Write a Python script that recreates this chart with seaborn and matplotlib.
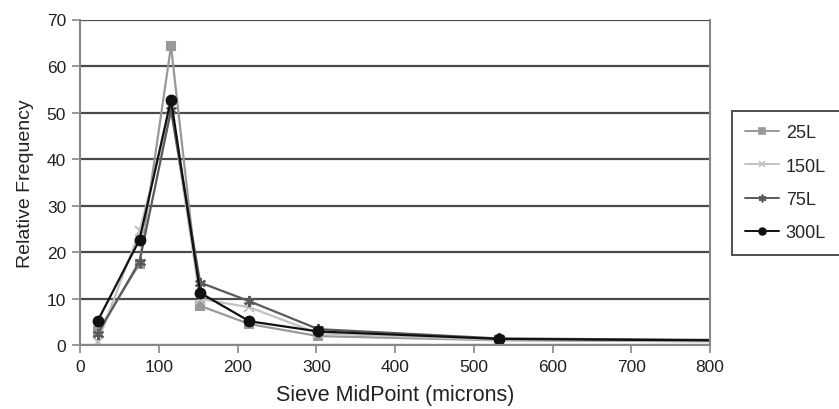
import numpy as np
import pandas as pd
import matplotlib
matplotlib.use("Agg")
import matplotlib.pyplot as plt
from matplotlib.lines import Line2D
import seaborn as sns

# sieve midpoints (microns); last point lies beyond the 800 axis limit
midpoints = [22.5, 75.5, 115.5, 152.5, 215, 302.5, 532.5, 1055]

series_names = ["25L", "150L", "75L", "300L"]
freq_25L = [3.0, 17.5, 64.3, 8.5, 4.6, 2.0, 1.1, 0.7]
freq_150L = [0.8, 24.5, 51.0, 10.0, 8.2, 2.6, 1.2, 0.8]
freq_75L = [2.5, 18.0, 50.5, 13.5, 9.5, 3.5, 1.5, 0.9]
freq_300L = [5.3, 22.7, 52.8, 11.3, 5.2, 3.0, 1.4, 0.8]

colors = ["#999999", "#c2c2c2", "#5a5a5a", "#111111"]
markers = ["s", "x", (6, 2, 0), "o"]
msizes = [6, 7, 8, 7]

sns.set_style("white")
plt.rcParams["font.family"] = ["Liberation Sans", "DejaVu Sans"]

fig = plt.figure(figsize=(8.39, 4.10), dpi=100)
ax = fig.add_axes([0.0954, 0.155, 0.751, 0.795])

for name, vals, c, m, ms in zip(series_names, [freq_25L, freq_150L, freq_75L, freq_300L],
                                colors, markers, msizes):
    sns.lineplot(x=midpoints, y=vals, color=c, marker=m, markersize=ms,
                 markeredgecolor=c, markerfacecolor=c, markeredgewidth=1.5,
                 linewidth=1.6, sort=False, ax=ax, label=name, legend=False)

ax.set_xlim(0, 800)
ax.set_ylim(0, 70)
ax.set_xticks(range(0, 801, 100))
ax.set_yticks(range(0, 71, 10))
ax.yaxis.grid(True, color="#4a4a4a", linewidth=1.6)
ax.set_axisbelow(True)

for side in ["left", "bottom", "right"]:
    ax.spines[side].set_color("#888888")
    ax.spines[side].set_linewidth(1.5)
ax.spines["top"].set_visible(False)

ax.tick_params(axis="both", direction="out", length=6, width=1.2, color="#888888",
               labelsize=12.5, labelcolor="#222222", pad=4, bottom=True, left=True)
ax.set_xlabel("Sieve MidPoint (microns)", fontsize=15.5, color="#222222", labelpad=7)
ax.set_ylabel("Relative Frequency", fontsize=14, color="#222222", labelpad=9)

# legend handles with smaller markers, as in the reference
handles = [Line2D([], [], color=c, marker=m, markersize=ms * 0.7,
                  markeredgecolor=c, markerfacecolor=c, markeredgewidth=1.2, linewidth=1.4)
           for c, m, ms in zip(colors, markers, msizes)]
leg = fig.legend(handles, series_names, loc="upper left",
                 bbox_to_anchor=(0.872, 0.727), frameon=True, fancybox=False,
                 fontsize=13, handlelength=1.9, labelspacing=0.9,
                 borderpad=0.75, handletextpad=0.35, borderaxespad=0)
leg.get_frame().set_edgecolor("#222222")
leg.get_frame().set_linewidth(1.4)

fig.savefig("out.png", dpi=100)
